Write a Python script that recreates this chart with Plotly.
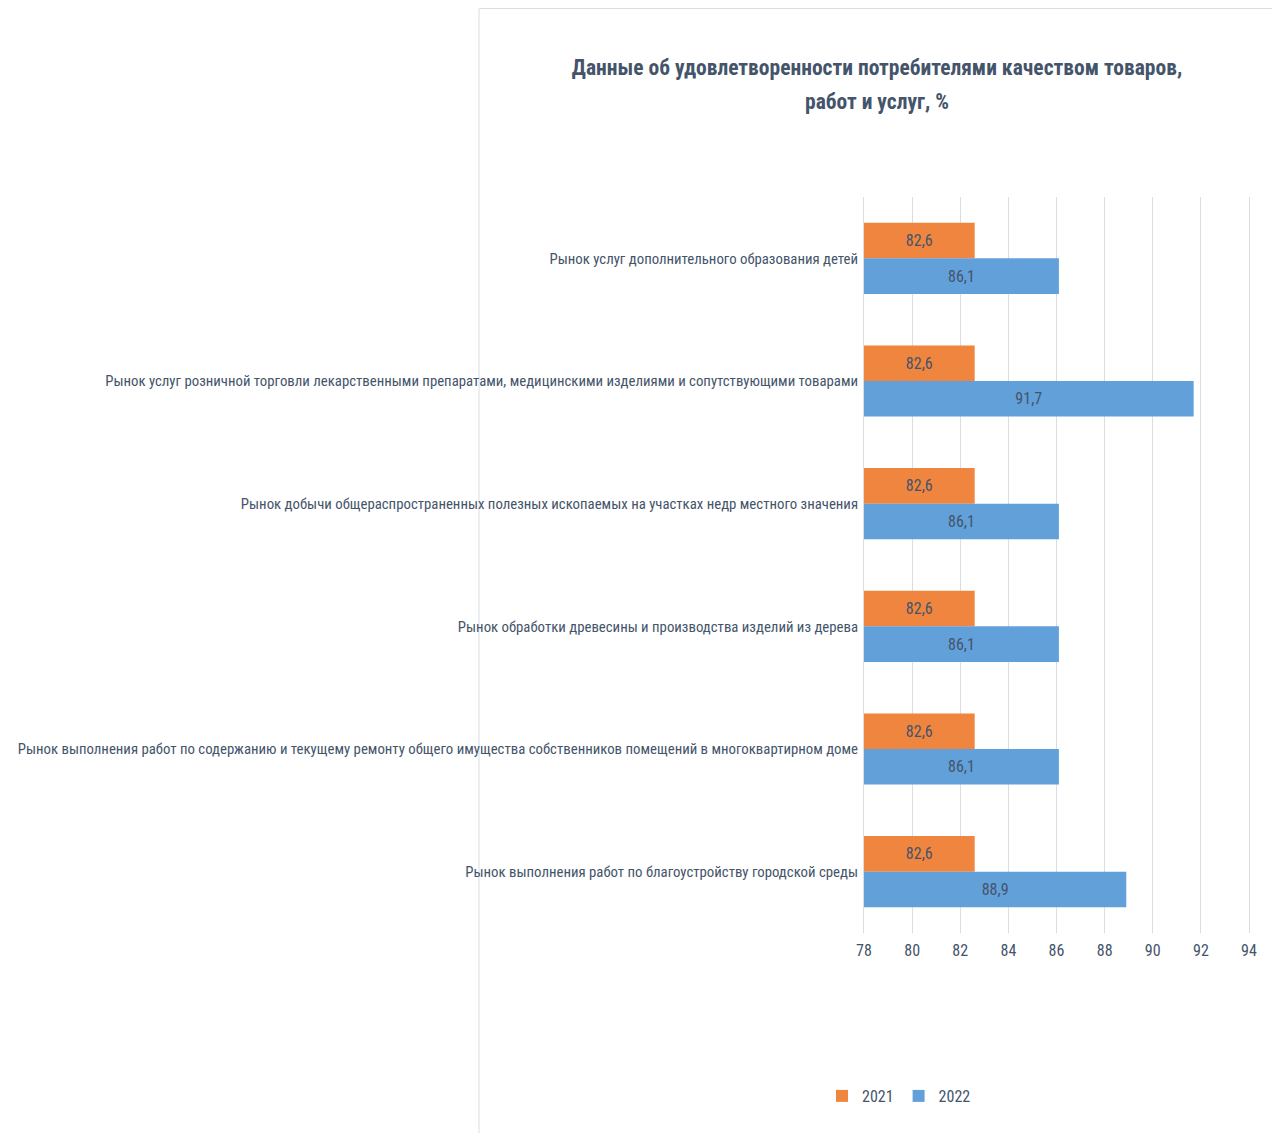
import plotly.graph_objects as go

categories = [
    "Рынок услуг дополнительного образования детей",
    "Рынок услуг розничной торговли лекарственными препаратами, медицинскими изделиями и сопутствующими товарами",
    "Рынок добычи общераспространенных полезных ископаемых на участках недр местного значения",
    "Рынок обработки древесины и производства изделий из дерева",
    "Рынок выполнения работ по содержанию и текущему ремонту общего имущества собственников помещений в многоквартирном доме",
    "Рынок выполнения работ по благоустройству городской среды",
]
values_2021 = [82.6, 82.6, 82.6, 82.6, 82.6, 82.6]
values_2022 = [86.1, 91.7, 86.1, 86.1, 86.1, 88.9]
series_names = ["2021", "2022"]
x_ticks = [78, 80, 82, 84, 86, 88, 90, 92, 94]
title_lines = ["Данные об удовлетворенности потребителями качеством товаров,", "работ и услуг, %"]

AXIS_MIN, AXIS_MAX = 78, 94
FONT = "Roboto Condensed, DejaVu Sans Condensed, sans-serif"
TXT = "#44546A"
GRID = "#DADDE2"

# figure is placed 8px from page top-left by the default body margin
W, H = 1272, 1125
L, R, T, B = 856, 31, 189, 200
PW, PH = W - L - R, H - T - B


def bar(values, name, color):
    return go.Bar(
        y=categories, x=[v - AXIS_MIN for v in values], base=AXIS_MIN,
        customdata=values, name=name, orientation="h",
        marker=dict(color=color, line=dict(width=0)),
        texttemplate="%{customdata:.1f}", textposition="inside", insidetextanchor="middle",
        constraintext="none", textangle=0,
        textfont=dict(family=FONT, size=16, color=TXT),
        hovertemplate="%{y}: %{customdata:.1f}<extra>" + name + "</extra>",
    )


fig = go.Figure([
    bar(values_2021, series_names[0], "#F0853F"),
    bar(values_2022, series_names[1], "#62A0DA"),
])

fig.update_layout(
    width=W, height=H,
    margin=dict(l=L, r=R, t=T, b=B, autoexpand=False),
    paper_bgcolor="white", plot_bgcolor="white",
    separators=", ",
    barmode="group", bargap=0.42, bargroupgap=0,
    font=dict(family=FONT, size=16, color=TXT),
    title=dict(
        text="<b>" + title_lines[0] + "</b>",
        x=869 / W, xref="container", xanchor="center",
        y=1 - 59 / H, yref="container", yanchor="middle",
        font=dict(family=FONT, size=21.5, color=TXT),
    ),
    legend=dict(
        orientation="h", xref="container", yref="container",
        x=891 / W, xanchor="center", y=1 - 1088 / H, yanchor="middle",
        font=dict(family=FONT, size=16, color=TXT),
        itemwidth=30,
    ),
    showlegend=True,
)
fig.add_annotation(
    text="<b>" + title_lines[1] + "</b>", xref="paper", yref="paper",
    x=(869 - L) / PW, y=(H - B - 93) / PH, xanchor="center", yanchor="middle",
    showarrow=False, font=dict(family=FONT, size=21.5, color=TXT),
)
fig.update_xaxes(
    range=[AXIS_MIN, AXIS_MAX], tickvals=x_ticks, showgrid=True, gridcolor=GRID, gridwidth=1,
    zeroline=False, showline=False, ticks="", tickangle=0, automargin=False,
    ticklabelstandoff=6,
    tickfont=dict(family=FONT, size=16, color=TXT),
)
fig.update_yaxes(
    autorange="reversed", showgrid=False, showline=True, mirror=True, linecolor=GRID, linewidth=1,
    ticks="", ticklabelstandoff=2, automargin=False,
    tickfont=dict(family=FONT, size=14.8, color=TXT),
)
fig.add_shape(
    type="rect", xref="paper", yref="paper",
    x0=(471 - L) / PW, x1=(1269 - L) / PW,
    y0=(H - B - 1140) / PH, y1=(H - B - 0.5) / PH,
    line=dict(color=GRID, width=1), fillcolor="rgba(0,0,0,0)", layer="below",
)
fig.write_html("out.html")
